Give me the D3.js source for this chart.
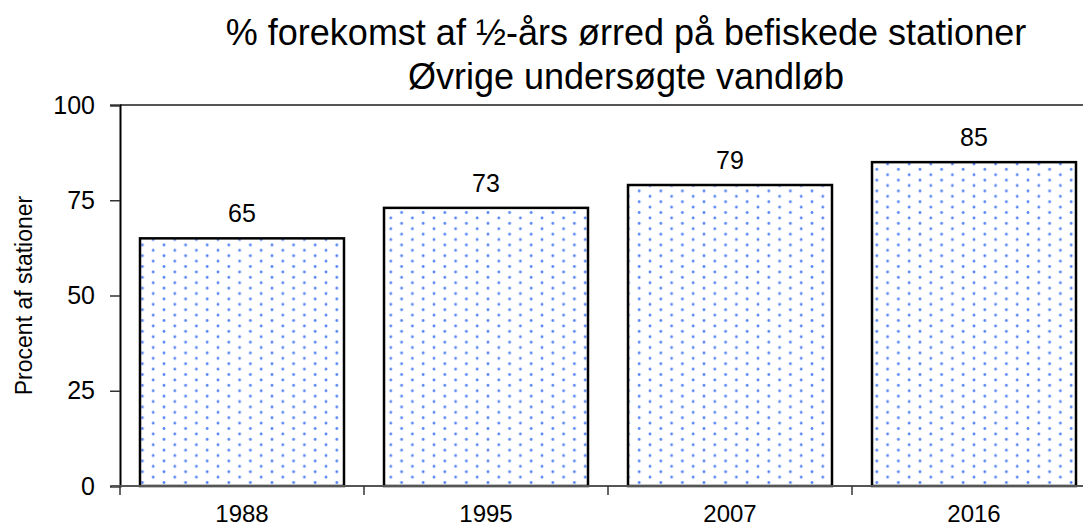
<!DOCTYPE html>
<html>
<head>
<meta charset="utf-8">
<script src="https://cdn.jsdelivr.net/npm/d3@7"></script>
<style>
  body { margin: 0; background: #fff; overflow: hidden; }
  svg { display: block; font-family: "Liberation Sans", Arial, sans-serif; }
</style>
</head>
<body>
<div id="chart"></div>
<script>
// chart data
const years = ['1988', '1995', '2007', '2016'];
const pct = [65, 73, 79, 85];
const yTicks = [0, 25, 50, 75, 100];
const titleLines = ['% forekomst af ½-års ørred på befiskede stationer', 'Øvrige undersøgte vandløb'];
const yLabel = 'Procent af stationer';

const width = 1083, height = 528;
const margin = { top: 105, right: -13, bottom: 42, left: 120 };
const font = '"Liberation Sans", Arial, sans-serif';

const svg = d3.select('#chart').append('svg')
    .attr('width', width)
    .attr('height', height);

// dotted fill pattern
const defs = svg.append('defs');
const pat = defs.append('pattern')
    .attr('id', 'dots')
    .attr('patternUnits', 'userSpaceOnUse')
    .attr('width', 21.6)
    .attr('height', 10.8);
pat.append('rect').attr('width', 21.6).attr('height', 10.8).attr('fill', '#fff');
pat.append('circle').attr('cx', 2).attr('cy', 2).attr('r', 1.4).attr('fill', '#5583f4');
pat.append('circle').attr('cx', 12.8).attr('cy', 7.4).attr('r', 1.4).attr('fill', '#5583f4');

const x = d3.scaleBand()
    .domain(years)
    .range([margin.left, width - margin.right])
    .paddingInner(0.164)
    .paddingOuter(0.082);

const y = d3.scaleLinear()
    .domain([0, 100])
    .range([height - margin.bottom, margin.top]);

// top frame line
svg.append('line')
    .attr('x1', margin.left).attr('x2', width)
    .attr('y1', y(100)).attr('y2', y(100))
    .attr('stroke', '#555').attr('stroke-width', 2);

// bars
svg.append('g').selectAll('rect')
    .data(pct)
    .join('rect')
    .attr('x', (d, i) => x(years[i]))
    .attr('y', d => y(d))
    .attr('width', x.bandwidth())
    .attr('height', d => y(0) - y(d))
    .attr('fill', 'url(#dots)')
    .attr('stroke', '#000')
    .attr('stroke-width', 2.5);

// value labels
svg.append('g').selectAll('text')
    .data(pct)
    .join('text')
    .attr('x', (d, i) => x(years[i]) + x.bandwidth() / 2)
    .attr('y', d => y(d) - 16)
    .attr('text-anchor', 'middle')
    .attr('font-size', 25)
    .text(d => d);

// y axis
const yAxis = svg.append('g')
    .attr('transform', `translate(${margin.left},0)`)
    .call(d3.axisLeft(y).tickValues(yTicks).tickSize(10).tickPadding(15));
yAxis.select('.domain').attr('stroke', '#000').attr('stroke-width', 2);
yAxis.selectAll('.tick line').attr('stroke', '#333').attr('stroke-width', 1.5);
yAxis.selectAll('.tick text').attr('font-size', 25).attr('fill', '#000')
    .attr('font-family', font);

// x axis: ticks at band boundaries
const xAxisG = svg.append('g')
    .attr('transform', `translate(0,${y(0)})`);
xAxisG.append('line')
    .attr('x1', margin.left - 8).attr('x2', width)
    .attr('y1', 0).attr('y2', 0)
    .attr('stroke', '#555').attr('stroke-width', 2);
const step = x.step();
xAxisG.selectAll('.xtick')
    .data(years)
    .join('line')
    .attr('class', 'xtick')
    .attr('x1', (d, i) => margin.left + i * step)
    .attr('x2', (d, i) => margin.left + i * step)
    .attr('y1', 0).attr('y2', 9)
    .attr('stroke', '#333').attr('stroke-width', 1.5);
xAxisG.selectAll('text')
    .data(years)
    .join('text')
    .attr('x', d => x(d) + x.bandwidth() / 2)
    .attr('y', 36)
    .attr('text-anchor', 'middle')
    .attr('font-size', 24)
    .text(d => d);

// y axis title
svg.append('text')
    .attr('transform', `translate(32,${(y(0) + y(100)) / 2}) rotate(-90)`)
    .attr('text-anchor', 'middle')
    .attr('font-size', 23)
    .text(yLabel);

// title
svg.append('g').selectAll('text')
    .data(titleLines)
    .join('text')
    .attr('x', 626)
    .attr('y', (d, i) => 45 + i * 44)
    .attr('text-anchor', 'middle')
    .attr('font-size', 36)
    .text(d => d);
</script>
</body>
</html>
